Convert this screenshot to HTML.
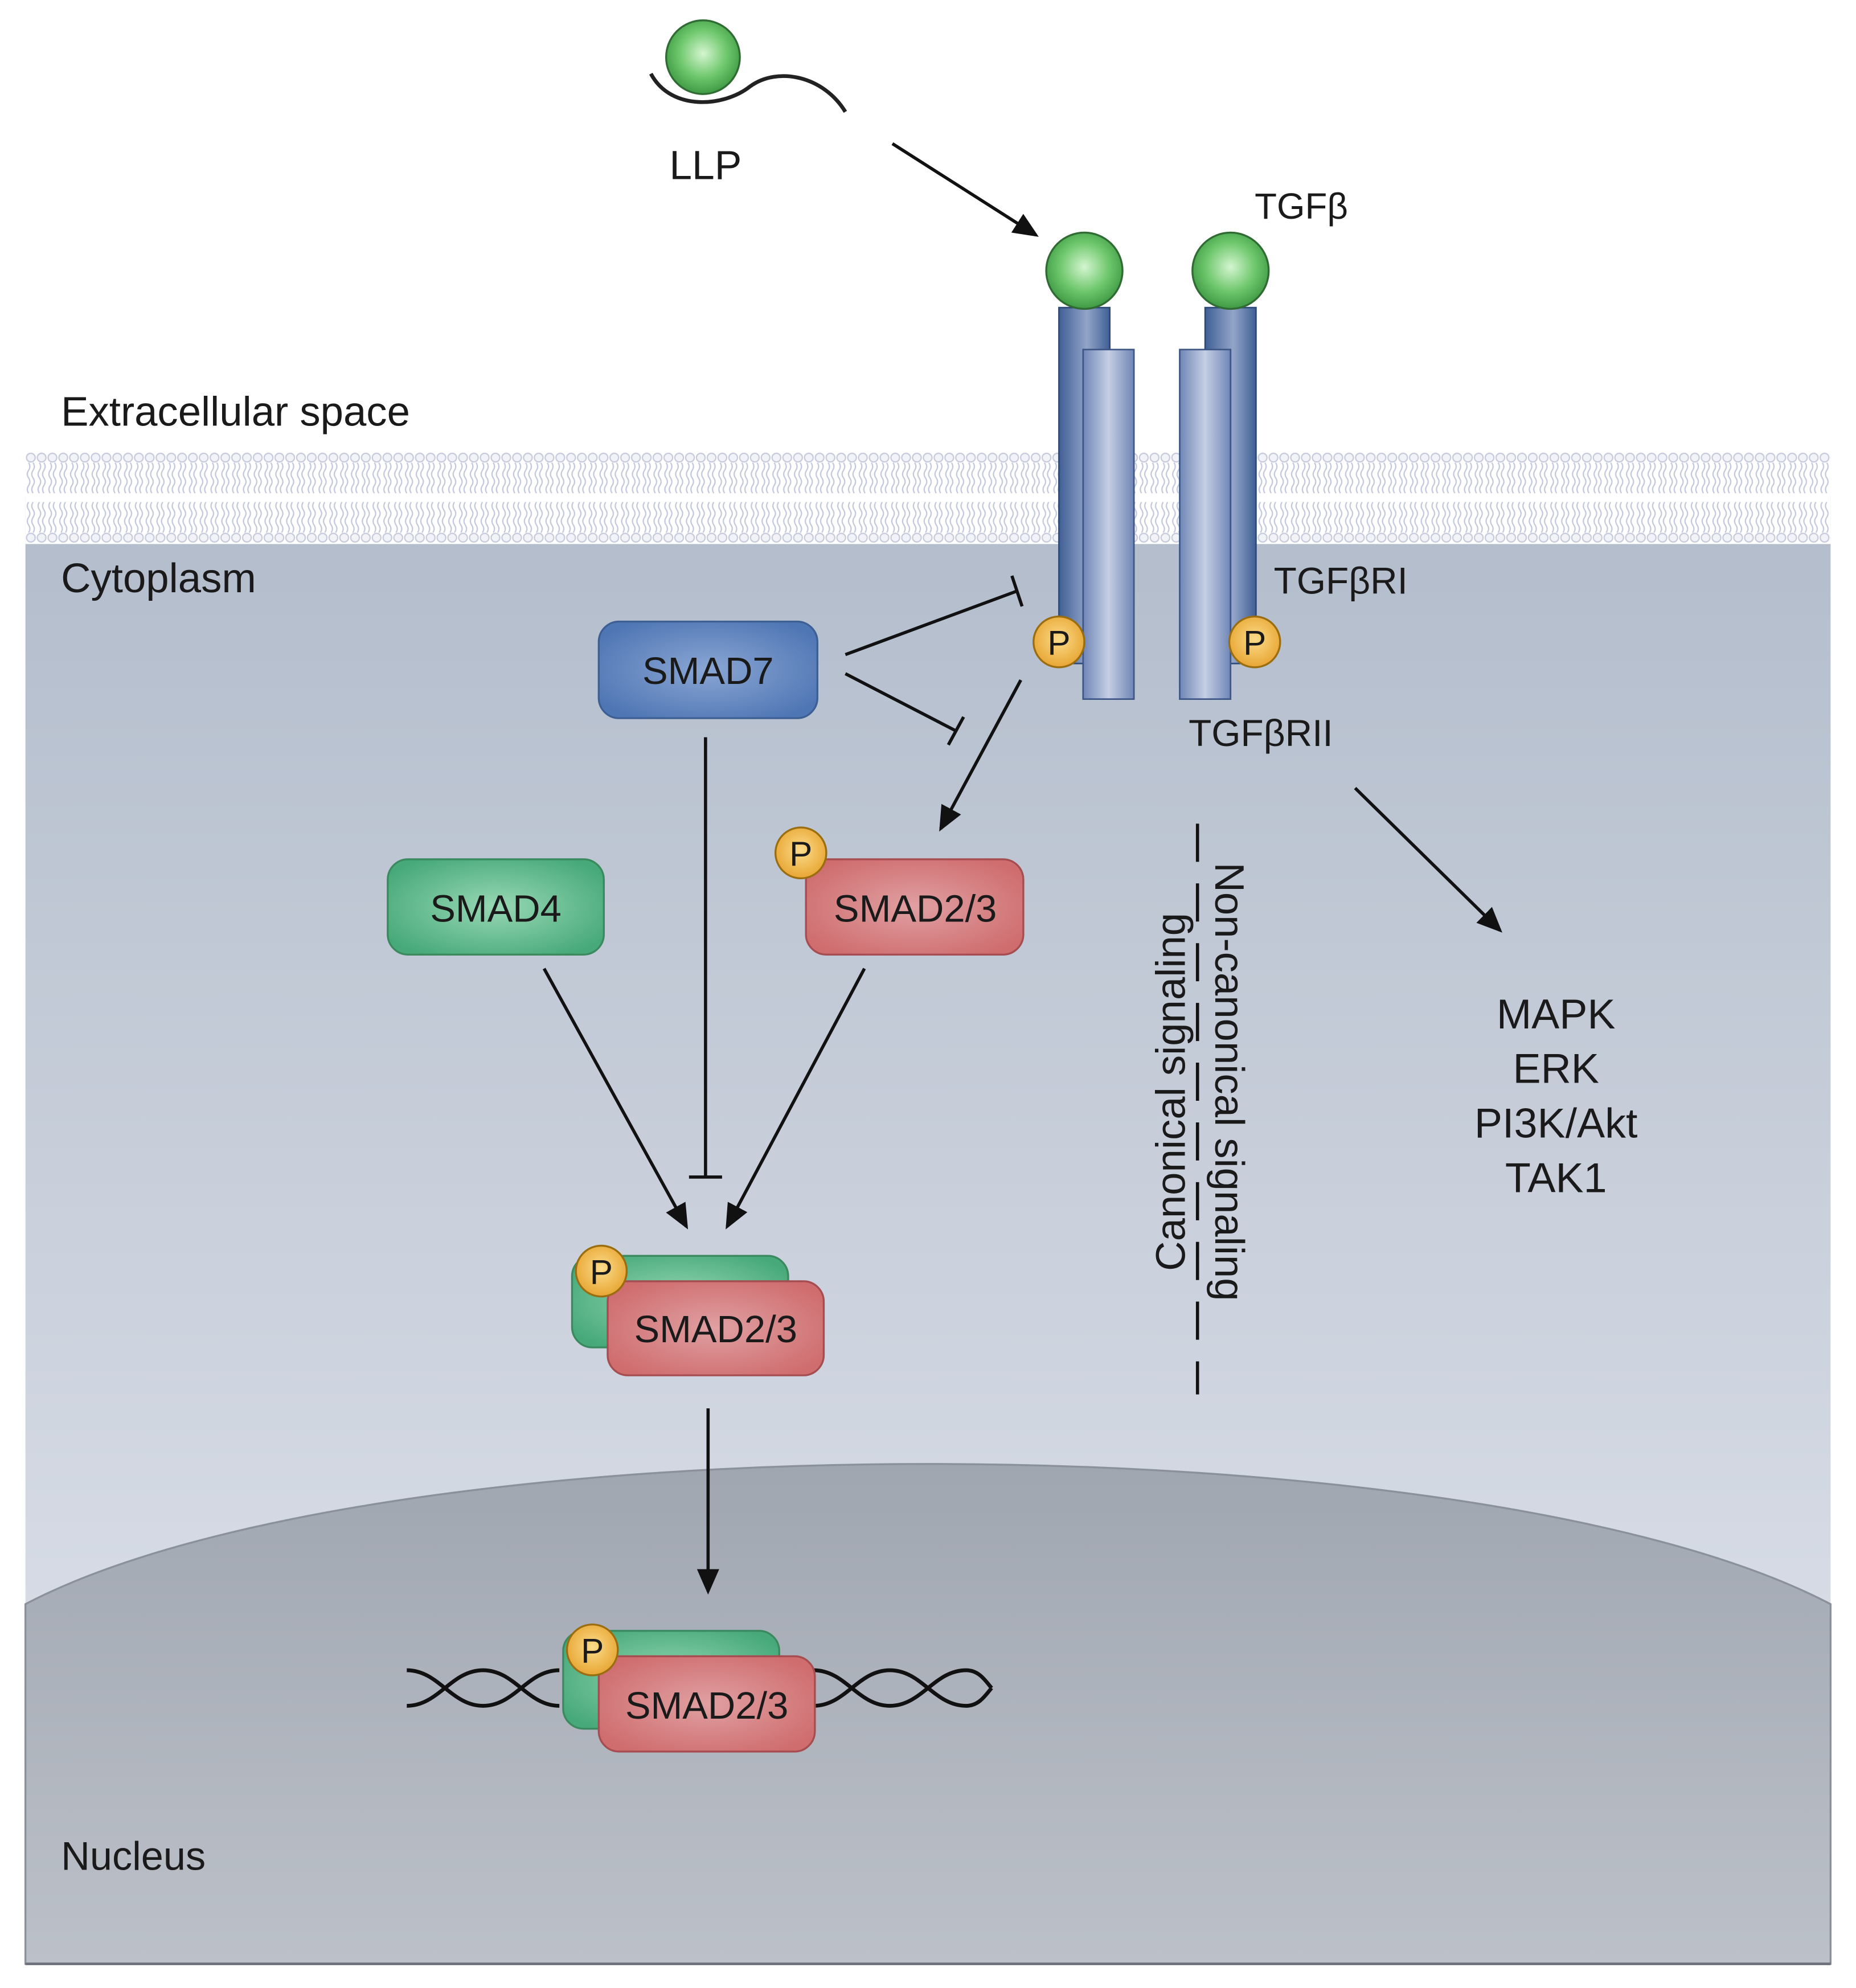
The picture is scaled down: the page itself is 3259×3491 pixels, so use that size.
<!DOCTYPE html>
<html><head><meta charset="utf-8"><style>
html,body{margin:0;padding:0;background:#fff;}
svg{display:block;}
text{font-family:"Liberation Sans",sans-serif;fill:#1a1a1a;}
</style></head><body>
<svg width="3259" height="3491" viewBox="0 0 1460 1564" preserveAspectRatio="none" xmlns="http://www.w3.org/2000/svg">
<defs>
<linearGradient id="cyto" x1="0" y1="0" x2="0" y2="1">
<stop offset="0" stop-color="#b2bccb"/><stop offset="1" stop-color="#e2e5ed"/></linearGradient>
<linearGradient id="nuc" x1="0" y1="0" x2="0" y2="1">
<stop offset="0" stop-color="#a0a6b0"/><stop offset="1" stop-color="#bcc1c9"/></linearGradient>
<radialGradient id="ball" cx="0.5" cy="0.45" r="0.55">
<stop offset="0" stop-color="#d4f5d0"/><stop offset="0.6" stop-color="#6cc66a"/><stop offset="1" stop-color="#3f9a45"/></radialGradient>
<radialGradient id="pg" cx="0.5" cy="0.45" r="0.55">
<stop offset="0" stop-color="#fbdc8a"/><stop offset="1" stop-color="#e8a634"/></radialGradient>
<linearGradient id="dark" x1="0" y1="0" x2="1" y2="0">
<stop offset="0" stop-color="#3f5f95"/><stop offset="0.55" stop-color="#93a5c8"/><stop offset="1" stop-color="#3f5f95"/></linearGradient>
<linearGradient id="light" x1="0" y1="0" x2="1" y2="0">
<stop offset="0" stop-color="#6f86b6"/><stop offset="0.5" stop-color="#c5cfe4"/><stop offset="1" stop-color="#6f86b6"/></linearGradient>
<radialGradient id="blue" cx="0.5" cy="0.5" r="0.6">
<stop offset="0" stop-color="#8aa6d4"/><stop offset="1" stop-color="#4f76b4"/></radialGradient>
<radialGradient id="green" cx="0.5" cy="0.5" r="0.6">
<stop offset="0" stop-color="#98d8b4"/><stop offset="1" stop-color="#47a97a"/></radialGradient>
<radialGradient id="red" cx="0.5" cy="0.5" r="0.6">
<stop offset="0" stop-color="#e0a0a2"/><stop offset="1" stop-color="#cf6c6e"/></radialGradient>
<pattern id="mem" x="20" y="355" width="8.5" height="73" patternUnits="userSpaceOnUse">
<circle cx="4.25" cy="5" r="3.4" fill="#f2f3f8" stroke="#c6cadb" stroke-width="1"/>
<circle cx="4.25" cy="68" r="3.4" fill="#f2f3f8" stroke="#c6cadb" stroke-width="1"/>
<path d="M2.5,9 q2,3 0,6 q-2,3 0,6 q2,3 0,6 q-2,3 0,6 M6,9 q2,3 0,6 q-2,3 0,6 q2,3 0,6 q-2,3 0,6 M2.5,64 q2,-3 0,-6 q-2,-3 0,-6 q2,-3 0,-6 q-2,-3 0,-6 M6,64 q2,-3 0,-6 q-2,-3 0,-6 q2,-3 0,-6 q-2,-3 0,-6" fill="none" stroke="#c2c7dc" stroke-width="1"/>
</pattern>
<marker id="ar" markerWidth="8" markerHeight="8" refX="7" refY="4" orient="auto" markerUnits="strokeWidth">
<path d="M0,0.5 L8,4 L0,7.5 z" fill="#111"/></marker>
</defs>

<rect x="20" y="390" width="1420" height="1155" fill="url(#cyto)"/>
<rect x="20" y="355" width="1420" height="73" fill="#fff"/>
<rect x="20" y="355" width="1420" height="73" fill="url(#mem)"/>
<path d="M20,1262 C300,1115 1160,1115 1440,1262 L1440,1545 L20,1545 z" fill="url(#nuc)" stroke="#8b919b" stroke-width="1.5"/>
<line x1="20" y1="1545" x2="1440" y2="1545" stroke="#6d727a" stroke-width="2"/>

<text x="48" y="335" font-size="32.5">Extracellular space</text>
<text x="48" y="466" font-size="32.5">Cytoplasm</text>
<text x="48" y="1471" font-size="31.5">Nucleus</text>

<path d="M512,58 C528,88 570,84 590,68 C612,52 648,60 665,88" fill="none" stroke="#222" stroke-width="3"/>
<circle cx="553" cy="45" r="29" fill="url(#ball)" stroke="#2f6b33" stroke-width="1.5"/>
<text x="555" y="141" font-size="32" text-anchor="middle">LLP</text>
<line x1="702" y1="113" x2="815" y2="185" stroke="#111" stroke-width="2.5" marker-end="url(#ar)"/>
<text x="987" y="172" font-size="28.5">TGFβ</text>

<rect x="833" y="242" width="40" height="280" fill="url(#dark)" stroke="#2e4a78" stroke-width="1.2"/>
<rect x="948" y="242" width="40" height="280" fill="url(#dark)" stroke="#2e4a78" stroke-width="1.2"/>
<rect x="852" y="275" width="40" height="275" fill="url(#light)" stroke="#3d5686" stroke-width="1.2"/>
<rect x="928" y="275" width="40" height="275" fill="url(#light)" stroke="#3d5686" stroke-width="1.2"/>
<circle cx="853" cy="213" r="30" fill="url(#ball)" stroke="#2f6b33" stroke-width="1.5"/>
<circle cx="968" cy="213" r="30" fill="url(#ball)" stroke="#2f6b33" stroke-width="1.5"/>
<circle cx="833" cy="505" r="20" fill="url(#pg)" stroke="#9a6d10" stroke-width="1.5"/>
<text x="833" y="515" font-size="27" text-anchor="middle">P</text>
<circle cx="987" cy="505" r="20" fill="url(#pg)" stroke="#9a6d10" stroke-width="1.5"/>
<text x="987" y="515" font-size="27" text-anchor="middle">P</text>
<text x="1002" y="467" font-size="29.5">TGFβRI</text>
<text x="935" y="587" font-size="29.5">TGFβRII</text>

<rect x="471" y="489" width="172" height="76" rx="16" fill="url(#blue)" stroke="#3e5f94" stroke-width="1.5"/>
<text x="557" y="538" font-size="30" text-anchor="middle">SMAD7</text>
<line x1="665" y1="515" x2="800" y2="465" stroke="#111" stroke-width="2.5"/>
<line x1="796" y1="453" x2="804" y2="477" stroke="#111" stroke-width="2.5"/>
<line x1="665" y1="530" x2="752" y2="575" stroke="#111" stroke-width="2.5"/>
<line x1="758" y1="564" x2="746" y2="586" stroke="#111" stroke-width="2.5"/>
<line x1="803" y1="535" x2="740" y2="652" stroke="#111" stroke-width="2.5" marker-end="url(#ar)"/>
<line x1="555" y1="580" x2="555" y2="926" stroke="#111" stroke-width="2.5"/>
<line x1="542" y1="926" x2="568" y2="926" stroke="#111" stroke-width="2.5"/>

<rect x="305" y="676" width="170" height="75" rx="16" fill="url(#green)" stroke="#3b8a5f" stroke-width="1.5"/>
<text x="390" y="725" font-size="30" text-anchor="middle">SMAD4</text>
<rect x="634" y="676" width="171" height="75" rx="16" fill="url(#red)" stroke="#a54d50" stroke-width="1.5"/>
<text x="720" y="725" font-size="30" text-anchor="middle">SMAD2/3</text>
<circle cx="630" cy="671" r="20" fill="url(#pg)" stroke="#9a6d10" stroke-width="1.5"/>
<text x="630" y="681" font-size="27" text-anchor="middle">P</text>

<line x1="428" y1="762" x2="540" y2="965" stroke="#111" stroke-width="2.5" marker-end="url(#ar)"/>
<line x1="680" y1="762" x2="572" y2="965" stroke="#111" stroke-width="2.5" marker-end="url(#ar)"/>

<rect x="450" y="988" width="170" height="72" rx="16" fill="url(#green)" stroke="#3b8a5f" stroke-width="1.5"/>
<rect x="478" y="1008" width="170" height="74" rx="16" fill="url(#red)" stroke="#a54d50" stroke-width="1.5"/>
<circle cx="473" cy="1000" r="20" fill="url(#pg)" stroke="#9a6d10" stroke-width="1.5"/>
<text x="473" y="1010" font-size="27" text-anchor="middle">P</text>
<text x="563" y="1056" font-size="30" text-anchor="middle">SMAD2/3</text>
<line x1="557" y1="1108" x2="557" y2="1252" stroke="#111" stroke-width="2.5" marker-end="url(#ar)"/>

<path d="M320,1314 C345,1314 355,1342 380,1342 C405,1342 415,1314 440,1314 M320,1342 C345,1342 355,1314 380,1314 C405,1314 415,1342 440,1342 M640,1314 C665,1314 675,1342 700,1342 C725,1342 735,1314 760,1314 C770,1314 775,1322 780,1328 M640,1342 C665,1342 675,1314 700,1314 C725,1314 735,1342 760,1342 C770,1342 775,1334 780,1328" fill="none" stroke="#111" stroke-width="3"/>
<rect x="443" y="1283" width="170" height="77" rx="16" fill="url(#green)" stroke="#3b8a5f" stroke-width="1.5"/>
<rect x="471" y="1303" width="170" height="75" rx="16" fill="url(#red)" stroke="#a54d50" stroke-width="1.5"/>
<circle cx="466" cy="1298" r="20" fill="url(#pg)" stroke="#9a6d10" stroke-width="1.5"/>
<text x="466" y="1308" font-size="27" text-anchor="middle">P</text>
<text x="556" y="1352" font-size="30" text-anchor="middle">SMAD2/3</text>

<line x1="942" y1="648" x2="942" y2="1097" stroke="#111" stroke-width="2.5" stroke-dasharray="30,17"/>
<text transform="translate(932,859) rotate(-90)" font-size="32.5" text-anchor="middle">Canonical signaling</text>
<text transform="translate(956,851) rotate(90)" font-size="32.5" text-anchor="middle">Non-canonical signaling</text>

<line x1="1066" y1="620" x2="1180" y2="732" stroke="#111" stroke-width="2.5" marker-end="url(#ar)"/>
<g font-size="33" text-anchor="middle">
<text x="1224" y="809">MAPK</text>
<text x="1224" y="852">ERK</text>
<text x="1224" y="895">PI3K/Akt</text>
<text x="1224" y="938">TAK1</text>
</g>
</svg>
</body></html>
